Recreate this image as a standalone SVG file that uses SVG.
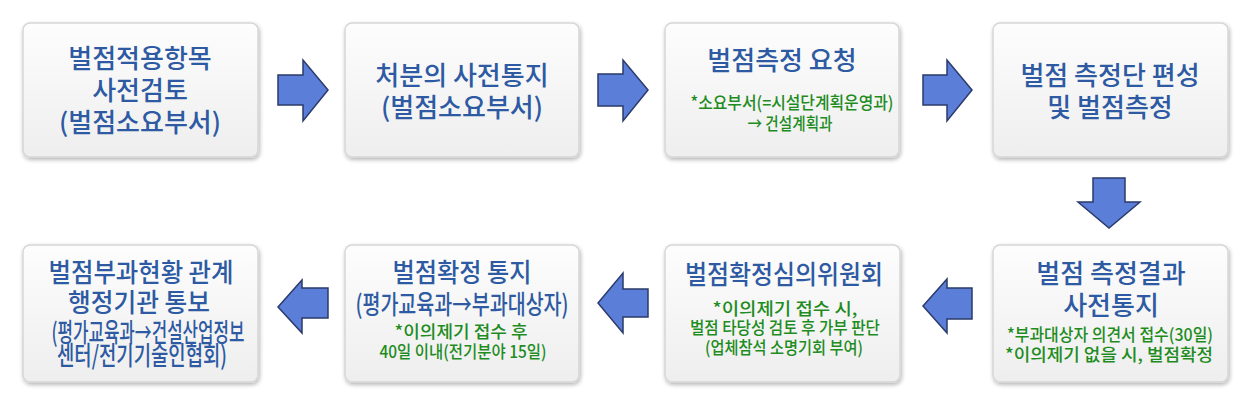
<svg xmlns="http://www.w3.org/2000/svg" width="1256" height="415" viewBox="0 0 1256 415">
<defs>
<linearGradient id="boxg" x1="0" y1="0" x2="0" y2="1">
<stop offset="0" stop-color="#fdfdfd"/>
<stop offset="1" stop-color="#eeeeee"/>
</linearGradient>
<filter id="sh" x="-10%" y="-10%" width="125%" height="130%">
<feGaussianBlur in="SourceAlpha" stdDeviation="2"/>
<feOffset dx="1" dy="2" result="b"/>
<feComponentTransfer><feFuncA type="linear" slope="0.3"/></feComponentTransfer>
<feMerge><feMergeNode/><feMergeNode in="SourceGraphic"/></feMerge>
</filter>
</defs>
<style>
.box{fill:url(#boxg);stroke:#d6d6d6;stroke-width:1.5;filter:url(#sh)}
.t{font-family:"Noto Sans CJK KR","Noto Sans",sans-serif;font-size:26px;fill:#2d5aa2;text-anchor:middle;font-weight:500}
.g{font-family:"Noto Sans CJK KR","Noto Sans",sans-serif;font-size:17px;fill:#1e8c1e;text-anchor:middle;font-weight:500}
.ar{fill:#5b7fd8;stroke:#2b3a6b;stroke-width:1.5;stroke-linejoin:miter}
</style>
<rect width="1256" height="415" fill="#ffffff"/>

<g id="n1">
<rect class="box" x="23" y="23" width="235" height="134" rx="7"/>
<text class="t" x="140" y="68">벌점적용항목</text>
<text class="t" x="140" y="100">사전검토</text>
<text class="t" x="140" y="132">(벌점소요부서)</text>
</g>
<g id="n2">
<rect class="box" x="345" y="23" width="234" height="134" rx="7"/>
<text class="t" x="462" y="85">처분의 사전통지</text>
<text class="t" x="462" y="117">(벌점소요부서)</text>
</g>
<g id="n3">
<rect class="box" x="665" y="23" width="234" height="134" rx="7"/>
<text class="t" x="782" y="70">벌점측정 요청</text>
<text class="g" x="792" y="109" textLength="203" lengthAdjust="spacingAndGlyphs">*소요부서(=시설단계획운영과)</text>
<text class="g" x="790" y="130" textLength="85" lengthAdjust="spacingAndGlyphs">→ 건설계획과</text>
</g>
<g id="n4">
<rect class="box" x="993" y="23" width="235" height="134" rx="7"/>
<text class="t" x="1110" y="85">벌점 측정단 편성</text>
<text class="t" x="1110" y="117">및 벌점측정</text>
</g>
<g id="n8">
<rect class="box" x="993" y="245" width="235" height="137" rx="7"/>
<text class="t" x="1111" y="283">벌점 측정결과</text>
<text class="t" x="1111" y="315">사전통지</text>
<text class="g" x="1110" y="341" textLength="206" lengthAdjust="spacingAndGlyphs">*부과대상자 의견서 접수(30일)</text>
<text class="g" x="1109" y="361" textLength="208" lengthAdjust="spacingAndGlyphs">*이의제기 없을 시, 벌점확정</text>
</g>
<g id="n7">
<rect class="box" x="665" y="245" width="235" height="137" rx="7"/>
<text class="t" x="784" y="284" textLength="198" lengthAdjust="spacingAndGlyphs">벌점확정심의위원회</text>
<text class="g" x="785" y="315" textLength="145" lengthAdjust="spacingAndGlyphs">*이의제기 접수 시,</text>
<text class="g" x="785" y="334" textLength="190" lengthAdjust="spacingAndGlyphs">벌점 타당성 검토 후 가부 판단</text>
<text class="g" x="784" y="354" textLength="158" lengthAdjust="spacingAndGlyphs">(업체참석 소명기회 부여)</text>
</g>
<g id="n6">
<rect class="box" x="345" y="245" width="234" height="137" rx="7"/>
<text class="t" x="462" y="282" textLength="139" lengthAdjust="spacingAndGlyphs">벌점확정 통지</text>
<text class="t" x="462" y="314" font-size="24" textLength="213" lengthAdjust="spacingAndGlyphs">(평가교육과→부과대상자)</text>
<text class="g" x="461" y="338" textLength="133" lengthAdjust="spacingAndGlyphs">*이의제기 접수 후</text>
<text class="g" x="463" y="358" textLength="167" lengthAdjust="spacingAndGlyphs">40일 이내(전기분야 15일)</text>
</g>
<g id="n5">
<rect class="box" x="23" y="245" width="235" height="137" rx="7"/>
<text class="t" x="141" y="282" textLength="185" lengthAdjust="spacingAndGlyphs">벌점부과현황 관계</text>
<text class="t" x="139" y="312" textLength="142" lengthAdjust="spacingAndGlyphs">행정기관 통보</text>
<text class="t" x="148" y="342" font-size="19" textLength="193" lengthAdjust="spacingAndGlyphs">(평가교육과→건설산업정보</text>
<text class="t" x="142" y="365" font-size="19" textLength="170" lengthAdjust="spacingAndGlyphs">센터/전기기술인협회)</text>
</g>

<g id="connectors">
<polygon class="ar" points="278,75 303,75 303,60 328,90 303,121 303,105 278,105"/>
<polygon class="ar" points="598,74 623,74 623,60 648,90 623,121 623,106 598,106"/>
<polygon class="ar" points="923,75 947,75 947,60 972,90 947,121 947,105 923,105"/>
<polygon class="ar" points="1093,178 1125,178 1125,202 1140,202 1109,228 1078,202 1093,202"/>
<polygon class="ar" points="972,288 947,288 947,279 923,306 947,333 947,319 972,319"/>
<polygon class="ar" points="648,289 623,289 623,273 598,303 623,333 623,317 648,317"/>
<polygon class="ar" points="328,288 302,288 302,280 278,307 302,333 302,318 328,318"/>
</g>
</svg>
